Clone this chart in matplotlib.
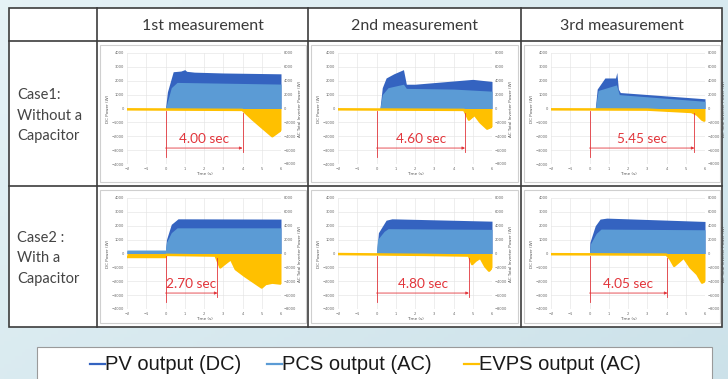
import matplotlib
matplotlib.use('Agg')
import matplotlib.pyplot as plt
import numpy as np
from matplotlib.patches import Rectangle

W, H = 728, 379

col_titles = ['1st measurement', '2nd measurement', '3rd measurement']
row_titles = ['Case1:\nWithout a\nCapacitor', 'Case2 :\nWith a\nCapacitor']
durations = [[4.00, 4.60, 5.45], [2.70, 4.80, 4.05]]
legend_labels = ['PV output (DC)', 'PCS output (AC)', 'EVPS output (AC)']

x_ticks = [-2, -1, 0, 1, 2, 3, 4, 5, 6]
left_ticks = [-4000, -3000, -2000, -1000, 0, 1000, 2000, 3000, 4000]
right_ticks = [-8000, -6000, -4000, -2000, 0, 2000, 4000, 6000, 8000]

# case 1, 1st measurement
pv_11_t = [-2, 0, 0.1, 0.4, 0.8, 1.0, 1.1, 1.5, 3, 6]
pv_11 = [0, 0, 1200, 2650, 2700, 2800, 2680, 2620, 2560, 2500]
pcs_11_t = [-2, 0, 0.3, 0.6, 6]
pcs_11 = [0, 0, 1500, 1880, 1760]
ev_11_t = [-2, 4.0, 4.5, 5.0, 5.55, 6.0]
ev_11 = [-60, -100, -750, -1350, -2000, -1550]

# case 1, 2nd measurement
pv_12_t = [-2, 0.18, 0.3, 0.5, 0.9, 1.4, 1.55, 2.0, 5.0, 6.0]
pv_12 = [0, 0, 1500, 2200, 2500, 2800, 1750, 1750, 2100, 1950]
pcs_12_t = [-2, 0.18, 0.3, 0.6, 1.4, 1.55, 4, 6]
pcs_12 = [0, 0, 1000, 1500, 1750, 1450, 1400, 1250]
ev_12_t = [-2, 4.55, 4.8, 5.1, 5.4, 5.75, 6.0]
ev_12 = [-60, -100, -800, -450, -1000, -1450, -1300]

# case 1, 3rd measurement
pv_13_t = [-2, 0.3, 0.4, 0.8, 1.35, 1.42, 1.5, 1.6, 6]
pv_13 = [0, 0, 1400, 2200, 2200, 2600, 1400, 1150, 700]
pcs_13_t = [-2, 0.3, 0.45, 1.4, 1.55, 6]
pcs_13 = [0, 0, 1300, 1700, 1000, 520]
ev_13_t = [-2, 3, 5.3, 5.6, 5.85, 6.0]
ev_13 = [-60, -80, -250, -450, -800, -900]

# case 2, 1st measurement
pv_21_t = [-2, 0, 0.05, 0.3, 0.65, 6]
pv_21 = [200, 200, 1000, 2100, 2500, 2480]
pcs_21_t = [-2, 0, 0.05, 0.3, 0.6, 6]
pcs_21 = [250, 250, 800, 1500, 1850, 1850]
ev_21_t = [-2, 0, 0.05, 2.6, 2.85, 3.05, 3.4, 3.65, 4.1, 4.5, 5.0, 5.2, 5.55, 6.0]
ev_21 = [-250, -250, -100, -150, -1000, -770, -400, -1130, -1600, -1980, -2450, -2200, -2100, -2170]

# case 2, 2nd measurement
pv_22_t = [-2, 0, 0.1, 0.5, 0.8, 6]
pv_22 = [0, 0, 1500, 2400, 2500, 2330]
pcs_22_t = [-2, 0, 0.05, 0.4, 0.6, 6]
pcs_22 = [0, 0, 1000, 1600, 1790, 1740]
ev_22_t = [-2, 2.5, 4.8, 4.97, 5.15, 5.4, 5.65, 5.85, 6.0]
ev_22 = [-40, -100, -150, -760, -520, -300, -930, -1240, -1000]

# case 2, 3rd measurement
pv_23_t = [-2, 0, 0.02, 0.3, 0.55, 0.9, 6]
pv_23 = [0, 0, 800, 2000, 2480, 2550, 2310]
pcs_23_t = [-2, 0, 0.05, 0.35, 0.6, 6]
pcs_23 = [0, 0, 700, 1450, 1760, 1710]
ev_23_t = [-2, 4.0, 4.2, 4.4, 4.6, 4.9, 5.25, 5.6, 5.85, 6.0]
ev_23 = [-50, -80, -400, -890, -650, -290, -1010, -1490, -2100, -1980]

panels = [
    [(pv_11_t, pv_11, pcs_11_t, pcs_11, ev_11_t, ev_11),
     (pv_12_t, pv_12, pcs_12_t, pcs_12, ev_12_t, ev_12),
     (pv_13_t, pv_13, pcs_13_t, pcs_13, ev_13_t, ev_13)],
    [(pv_21_t, pv_21, pcs_21_t, pcs_21, ev_21_t, ev_21),
     (pv_22_t, pv_22, pcs_22_t, pcs_22, ev_22_t, ev_22),
     (pv_23_t, pv_23, pcs_23_t, pcs_23, ev_23_t, ev_23)],
]

DARK = '#3463c0'
LIGHT = '#5b9bd5'
GOLD = '#ffc000'
RED = '#e2353b'
LINE = '#3c3c3c'

col_x = [9, 97, 308, 521, 722]
row_y = [8, 41, 186, 327]


def px_axes(fig, x0, y0, x1, y1):
    return fig.add_axes([x0 / W, 1 - y1 / H, (x1 - x0) / W, (y1 - y0) / H])


def draw_panel(fig, x0, y0, data, dur):
    pv_t, pv, pcs_t, pcs, ev_t, ev = data
    x1, y1 = x0 + 154, y0 + 111
    ax = px_axes(fig, x0, y0, x1, y1)
    ax.fill_between(pv_t, pv, 0, color=DARK, lw=0)
    ax.fill_between(pcs_t, pcs, 0, color=LIGHT, lw=0)
    ax.fill_between(ev_t, ev, 0, color=GOLD, lw=0)
    ax.plot(ev_t, ev, color=GOLD, lw=1.8, solid_capstyle='butt')
    ax.set_xlim(-2, 6)
    ax.set_ylim(-4000, 4000)
    ax.set_xticks(x_ticks)
    ax.set_yticks(left_ticks)
    ax.grid(color='#e2e2e2', lw=0.4)
    ax.set_axisbelow(True)
    ax.tick_params(labelsize=2.6, length=0, colors='#666666', pad=2)
    for s in ax.spines.values():
        s.set_visible(False)
    ax.set_xlabel('Time (s)', fontsize=3, color='#555555', labelpad=1)
    ax.set_ylabel('DC Power (W)', fontsize=3, color='#555555', labelpad=1)
    ax2 = ax.twinx()
    ax2.set_ylim(-8000, 8000)
    ax2.set_yticks(right_ticks)
    ax2.tick_params(labelsize=2.6, length=0, colors='#666666', pad=2)
    for s in ax2.spines.values():
        s.set_visible(False)
    ax2.set_ylabel('AC Total Inverter Power (W)', fontsize=3, color='#555555', labelpad=1)

    # red duration marker
    ax.plot([0, 0], [-200, -3500], color=RED, lw=0.6)
    ax.plot([dur, dur], [-300, -3100], color=RED, lw=0.6)
    ax.annotate('', xy=(dur, -2850), xytext=(0, -2850),
                arrowprops=dict(arrowstyle='-|>', color=RED, lw=0.6,
                                mutation_scale=4, shrinkA=0, shrinkB=0))
    ax.text(dur / 2, -2200, f'{dur:.2f} sec', color=RED, fontsize=9.8,
            family='Lato', ha='center', va='center')


fig = plt.figure(figsize=(W / 100, H / 100), dpi=100)

# background
bg = px_axes(fig, 0, 0, W, H)
gx = np.linspace(0, 1, 200)
gy = np.linspace(0, 1, 100)
grad = 0.55 * gx[None, :] + 0.45 * gy[:, None]
c0 = np.array([0.90, 0.95, 0.965])
c1 = np.array([0.80, 0.885, 0.915])
img = c0[None, None, :] * (1 - grad[:, :, None]) + c1[None, None, :] * grad[:, :, None]
bg.imshow(img, extent=[0, W, H, 0], aspect='auto')
bg.set_xlim(0, W)
bg.set_ylim(H, 0)
bg.axis('off')

# table
bg.add_patch(Rectangle((col_x[0], row_y[0]), col_x[-1] - col_x[0], row_y[-1] - row_y[0],
                       facecolor='white', edgecolor=LINE, lw=1.2))
for x in col_x[1:-1]:
    bg.plot([x, x], [row_y[0], row_y[-1]], color=LINE, lw=1.2)
for y in row_y[1:-1]:
    bg.plot([col_x[0], col_x[-1]], [y, y], color=LINE, lw=1.2)

for j, title in enumerate(col_titles):
    bg.text((col_x[j + 1] + col_x[j + 2]) / 2, (row_y[0] + row_y[1]) / 2 + 1, title,
            fontsize=11.5, family='Lato', color='#3a3a3a', ha='center', va='center')
for i, title in enumerate(row_titles):
    bg.text(17, (row_y[i + 1] + row_y[i + 2]) / 2 + 2, title, fontsize=10.5,
            family='Lato', color='#444444', ha='left', va='center', linespacing=1.6)

# chart frames
for i in range(2):
    for j in range(3):
        cx = col_x[j + 1]
        cy = row_y[i + 1]
        bx1 = min(cx + 30 + 154 + 26, col_x[j + 2] - 2)
        bg.add_patch(Rectangle((cx + 3, cy + 4), bx1 - cx - 3, row_y[i + 2] - cy - 8,
                               facecolor='white', edgecolor='#cfcfcf', lw=0.8))

# legend box
bg.add_patch(Rectangle((37, 347), 675, 40, facecolor='white', edgecolor='#9a9a9a', lw=0.8))

for i in range(2):
    for j in range(3):
        draw_panel(fig, col_x[j + 1] + 30, row_y[i + 1] + 12, panels[i][j], durations[i][j])

# legend entries
leg = px_axes(fig, 0, 0, W, H)
leg.set_xlim(0, W)
leg.set_ylim(H, 0)
leg.axis('off')
leg_x = [90, 267, 464]
for x, label, color in zip(leg_x, legend_labels, [DARK, LIGHT, GOLD]):
    leg.plot([x, x + 15], [364, 364], color=color, lw=1.6)
    leg.text(x + 15, 364, label, fontsize=14.5, family='Liberation Sans',
             color='#1a1a1a', ha='left', va='center')

fig.savefig('out.png', dpi=100)
